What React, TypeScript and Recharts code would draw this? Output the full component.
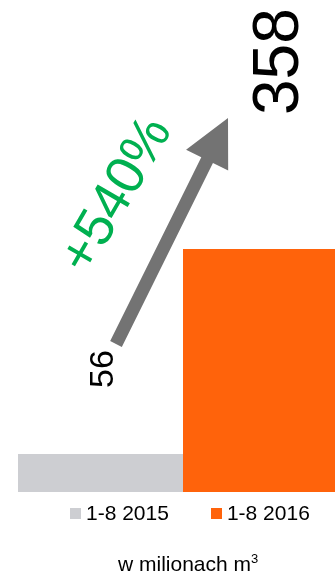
import { BarChart, Bar, XAxis, YAxis, Legend, LabelList } from "recharts";

const categories = ["1-8"];
const seriesNames = ["1-8 2015", "1-8 2016"];
const values2015 = [56];
const values2016 = [358];
const changeLabels = ["+540%"];
const unitLabel = "w milionach m";

const COLORS = ["#CDCED2", "#FF630B"];
const FONT = "'Liberation Sans', Arial, sans-serif";

const data = categories.map((name, i) => ({
  name,
  y2015: values2015[i],
  y2016: values2016[i],
}));

// rotated value above a bar
function valueLabel(fontSize: number, dx: number, dy: number) {
  return (props: any) => {
    const x = Number(props.x);
    const y = Number(props.y);
    const w = Number(props.width);
    const bx = x + w / 2 + dx;
    const by = y - dy;
    return (
      <text
        x={bx}
        y={by}
        transform={`rotate(-90 ${bx} ${by})`}
        fontSize={fontSize}
        fontFamily={FONT}
        fill="#000"
        textAnchor="start"
      >
        {props.value}
      </text>
    );
  };
}

// arrow from the 2015 bar to the 2016 bar, with the change label
function ChangeArrow(props: any) {
  const x = Number(props.x);
  const y = Number(props.y);
  const w = Number(props.width);
  const h = Number(props.height);
  const i = props.index ?? 0;
  const bottom = y + h;
  const grayX = x - w;
  const grayTop = bottom - (h * values2015[i]) / values2016[i];

  const tx = grayX + w / 2 + 15.5;
  const ty = grayTop - 110;
  const px = x + 45;
  const py = y - 131;

  const len = Math.hypot(px - tx, py - ty);
  const ux = (px - tx) / len;
  const uy = (py - ty) / len;
  const nx = -uy;
  const ny = ux;
  const shaft = 6.5;
  const headW = 23.5;
  const headL = 47;
  const bx = px - ux * headL;
  const by = py - uy * headL;
  const pts = [
    [tx + nx * shaft, ty + ny * shaft],
    [bx + nx * shaft, by + ny * shaft],
    [bx + nx * headW, by + ny * headW],
    [px, py],
    [bx - nx * headW, by - ny * headW],
    [bx - nx * shaft, by - ny * shaft],
    [tx - nx * shaft, ty - ny * shaft],
  ]
    .map((p) => p.join(","))
    .join(" ");

  const lx = (tx + px) / 2 - 42;
  const ly = (ty + py) / 2 - 28;

  return (
    <g>
      <polygon points={pts} fill="#737373" />
      <text
        x={lx}
        y={ly}
        transform={`rotate(-60 ${lx} ${ly})`}
        fontSize={54}
        fontFamily={FONT}
        fill="#00B050"
        textAnchor="middle"
      >
        {changeLabels[i]}
      </text>
    </g>
  );
}

function ChartLegend() {
  return (
    <div style={{ position: "relative", height: 82, fontFamily: FONT, color: "#000" }}>
      <div
        style={{
          position: "absolute",
          top: 11,
          left: 70,
          display: "flex",
          alignItems: "center",
          gap: 42,
          fontSize: 21,
          lineHeight: "20px",
          whiteSpace: "nowrap",
        }}
      >
        {seriesNames.map((s, i) => (
          <div key={s} style={{ display: "flex", alignItems: "center", gap: 5 }}>
            <span style={{ width: 11, height: 11, background: COLORS[i], display: "inline-block" }} />
            <span>{s}</span>
          </div>
        ))}
      </div>
      <div
        style={{
          position: "absolute",
          top: 62,
          left: 118,
          fontSize: 21,
          lineHeight: "20px",
          whiteSpace: "nowrap",
        }}
      >
        {unitLabel}
        <span style={{ fontSize: 13, position: "relative", top: -8 }}>3</span>
      </div>
    </div>
  );
}

export default function App() {
  return (
    <div style={{ position: "fixed", left: 0, top: 0, width: 335, height: 574, overflow: "hidden" }}>
      <BarChart
        width={335}
        height={574}
        data={data}
        margin={{ top: 0, right: -13, left: 18, bottom: 0 }}
        barGap={0}
        barCategoryGap={0}
      >
        <XAxis dataKey="name" hide />
        <YAxis hide domain={[0, 725]} />
        <Legend
          verticalAlign="bottom"
          wrapperStyle={{ left: 0, width: 335 }}
          content={() => <ChartLegend />}
        />
        <Bar dataKey="y2015" name={seriesNames[0]} fill={COLORS[0]} isAnimationActive={false}>
          <LabelList dataKey="y2015" content={valueLabel(34, 12.5, 66)} />
        </Bar>
        <Bar dataKey="y2016" name={seriesNames[1]} fill={COLORS[1]} isAnimationActive={false}>
          <LabelList dataKey="y2016" content={valueLabel(64, 32.5, 134)} />
          <LabelList dataKey="y2016" content={ChangeArrow} />
        </Bar>
      </BarChart>
    </div>
  );
}
